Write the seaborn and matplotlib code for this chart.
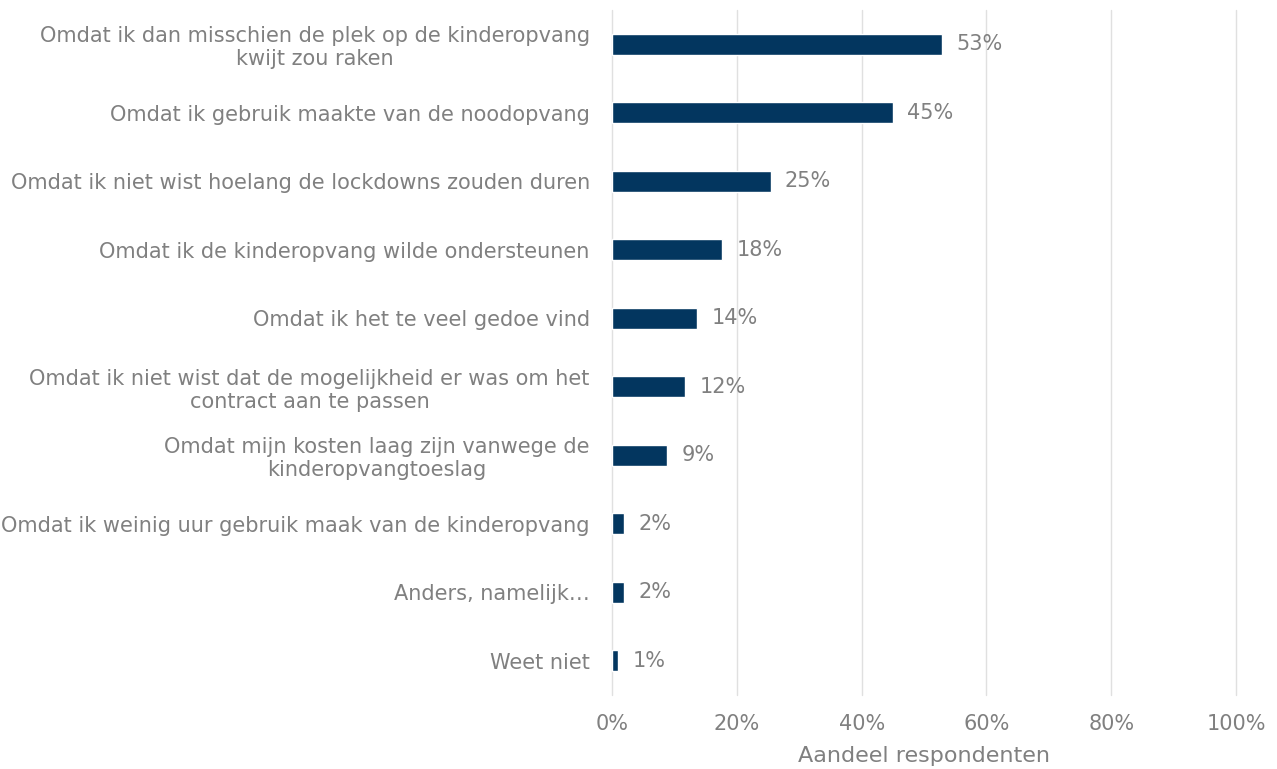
import matplotlib
matplotlib.use("Agg")
import matplotlib.pyplot as plt
import seaborn as sns
import pandas as pd
from matplotlib.ticker import PercentFormatter

redenen = [
    "Omdat ik dan misschien de plek op de kinderopvang\nkwijt zou raken",
    "Omdat ik gebruik maakte van de noodopvang",
    "Omdat ik niet wist hoelang de lockdowns zouden duren",
    "Omdat ik de kinderopvang wilde ondersteunen",
    "Omdat ik het te veel gedoe vind",
    "Omdat ik niet wist dat de mogelijkheid er was om het\ncontract aan te passen",
    "Omdat mijn kosten laag zijn vanwege de\nkinderopvangtoeslag",
    "Omdat ik weinig uur gebruik maak van de kinderopvang",
    "Anders, namelijk\u2026",
    "Weet niet",
]
aandeel = [52.9, 45.0, 25.4, 17.6, 13.6, 11.7, 8.8, 1.9, 1.9, 1.0]

df = pd.DataFrame({"reden": redenen, "aandeel": aandeel})

grijs = "#808080"
blauw = "#03365F"

sns.set_theme(style="white")
plt.rcParams["font.family"] = ["DejaVu Sans"]

fig = plt.figure(figsize=(12.77, 7.69), dpi=100)
ax = fig.add_axes([0.4793, 0.0962, 0.4886, 0.8908])

sns.barplot(data=df, x="aandeel", y="reden", color=blauw, width=0.3,
            saturation=1, ax=ax, zorder=3)

for i, v in enumerate(aandeel):
    ax.text(v + 2.3, i, f"{round(v)}%", va="center", ha="left",
            fontsize=15, color=grijs)

ax.set_xlim(0, 100)
ax.set_ylim(9.5, -0.5)
ax.set_xticks(range(0, 101, 20))
ax.xaxis.set_major_formatter(PercentFormatter(decimals=0))
ax.grid(axis="x", color="#e0e0e0", linewidth=1.0, zorder=0)
ax.grid(axis="y", visible=False)
for gl in ax.get_xgridlines():
    gl.set_clip_on(False)
sns.despine(ax=ax, left=True, bottom=True)

ax.tick_params(axis="x", labelsize=15, labelcolor=grijs, length=0, pad=14)
ax.tick_params(axis="y", labelsize=15, labelcolor=grijs, length=0, pad=16)
for lab in ax.get_yticklabels():
    lab.set_horizontalalignment("right")
    lab.set_multialignment("center")

ax.set_ylabel("")
ax.set_xlabel("Aandeel respondenten", fontsize=16, color=grijs, labelpad=8)

fig.savefig("out.png", dpi=100)
